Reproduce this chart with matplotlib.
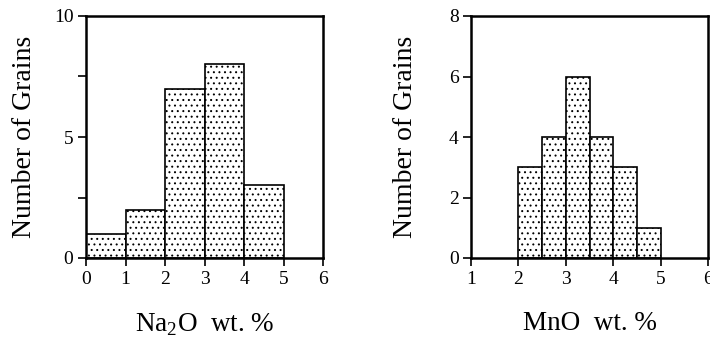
import matplotlib
matplotlib.use("Agg")
import matplotlib.pyplot as plt
from matplotlib.ticker import MultipleLocator

plt.rcParams['font.family'] = ['Liberation Serif', 'DejaVu Serif']
plt.rcParams['hatch.linewidth'] = 0.7
plt.rcParams['mathtext.fontset'] = 'custom'
plt.rcParams['mathtext.rm'] = 'Liberation Serif'

na_edges = [0, 1, 2, 3, 4, 5]
na_counts = [1, 2, 7, 8, 3]
mn_edges = [2.0, 2.5, 3.0, 3.5, 4.0, 4.5, 5.0]
mn_counts = [3, 4, 6, 4, 3, 1]

na_xticks = [0, 1, 2, 3, 4, 5, 6]
na_yticks = [0, 5, 10]
mn_xticks = [1, 2, 3, 4, 5, 6]
mn_yticks = [0, 2, 4, 6, 8]

fig = plt.figure(figsize=(7.10, 3.38), dpi=100)
W, H = 710, 338
ax1 = fig.add_axes([86 / W, 1 - 258 / H, (323 - 86) / W, (258 - 16) / H])
ax2 = fig.add_axes([471 / W, 1 - 258 / H, (708 - 471) / W, (258 - 16) / H])


def draw(ax, edges, counts, xt, yt, xlim, ylim, minor, xlabel, ypad):
    lefts = edges[:-1]
    widths = [edges[i + 1] - edges[i] for i in range(len(counts))]
    ax.bar(lefts, counts, width=widths, align='edge', color='white',
           edgecolor='black', linewidth=1.2, hatch='...')
    ax.set_xlim(*xlim)
    ax.set_ylim(*ylim)
    ax.set_xticks(xt)
    ax.set_yticks(yt)
    if minor:
        ax.yaxis.set_minor_locator(MultipleLocator(minor))
    ax.tick_params(axis='both', which='major', direction='out', length=6,
                   width=1.2, labelsize=14, pad=3)
    ax.tick_params(axis='y', which='minor', direction='out', length=6, width=1.2)
    for s in ax.spines.values():
        s.set_linewidth(1.8)
    ax.set_ylabel('Number of Grains', fontsize=20, labelpad=ypad)
    ax.set_xlabel(xlabel, fontsize=19.5, labelpad=17)


draw(ax1, na_edges, na_counts, na_xticks, na_yticks, (0, 6), (0, 10), 2.5,
     'Na$_2$O  wt. %', 12)
draw(ax2, mn_edges, mn_counts, mn_xticks, mn_yticks, (1, 6), (0, 8), None,
     'MnO  wt. %', 22)

fig.savefig('out.png', dpi=100)
